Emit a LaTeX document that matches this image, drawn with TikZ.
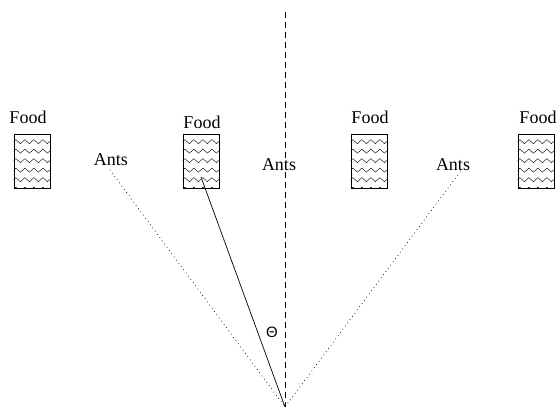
\documentclass[tikz,border=0pt]{standalone}
\usepackage{fontspec}
\setmainfont{Liberation Serif}
\newfontfamily\sansf{Liberation Sans}
\usetikzlibrary{decorations.pathmorphing}
\begin{document}
\begin{tikzpicture}[x=1pt,y=-1pt,
  foodbox/.style={draw, line width=0.7pt, minimum width=36pt, minimum height=54pt, inner sep=0pt},
  wave/.style={line width=0.4pt, decorate, decoration={zigzag, segment length=9pt, amplitude=2pt}},
  lbl/.style={font=\fontsize{18}{21}\selectfont, inner sep=0pt},
  axis/.style={line width=0.7pt, dash pattern=on 6pt off 4pt},
  ray/.style={line width=1pt, line cap=round, dash pattern=on 0pt off 4pt},
  ant/.style={line width=0.7pt}]
\useasboundingbox (0,0) rectangle (557,409);
\node[foodbox] (f1) at (32,161) {};
\node[foodbox] (f2) at (201,161) {};
\node[foodbox] (f3) at (369,161) {};
\node[foodbox] (f4) at (536,161) {};
\foreach \b in {f1,f2,f3,f4}{
  \begin{scope}
    \clip (\b.north west) rectangle (\b.south east);
    \foreach \yy in {8,17.5,27,36.5,46,55.5}
      \draw[wave] ([yshift=-\yy pt]\b.north west) -- ([yshift=-\yy pt]\b.north east);
  \end{scope}
}
\node[lbl] (lf1) at (28,117) {Food};
\node[lbl] (lf2) at (202,122) {Food};
\node[lbl] (lf3) at (370,117) {Food};
\node[lbl] (lf4) at (538,117) {Food};
\node[lbl] (la1) at (111,160) {Ants};
\node[lbl] (la2) at (279,165) {Ants};
\node[lbl] (la3) at (453,165) {Ants};
\node[font=\sansf\fontsize{15}{17}\selectfont, inner sep=0pt] (th) at (272,332) {Θ};
\coordinate (apex) at (285,407);
\coordinate (top) at (285,12);
\coordinate (dl) at (110,170);
\coordinate (dr) at (460,172);
\coordinate (s) at (201,177);
\draw[axis] (top) -- (apex);
\draw[ray] (dl) -- (apex);
\draw[ray] (dr) -- (apex);
\draw[ant] (s) -- (apex);
\end{tikzpicture}
\end{document}
